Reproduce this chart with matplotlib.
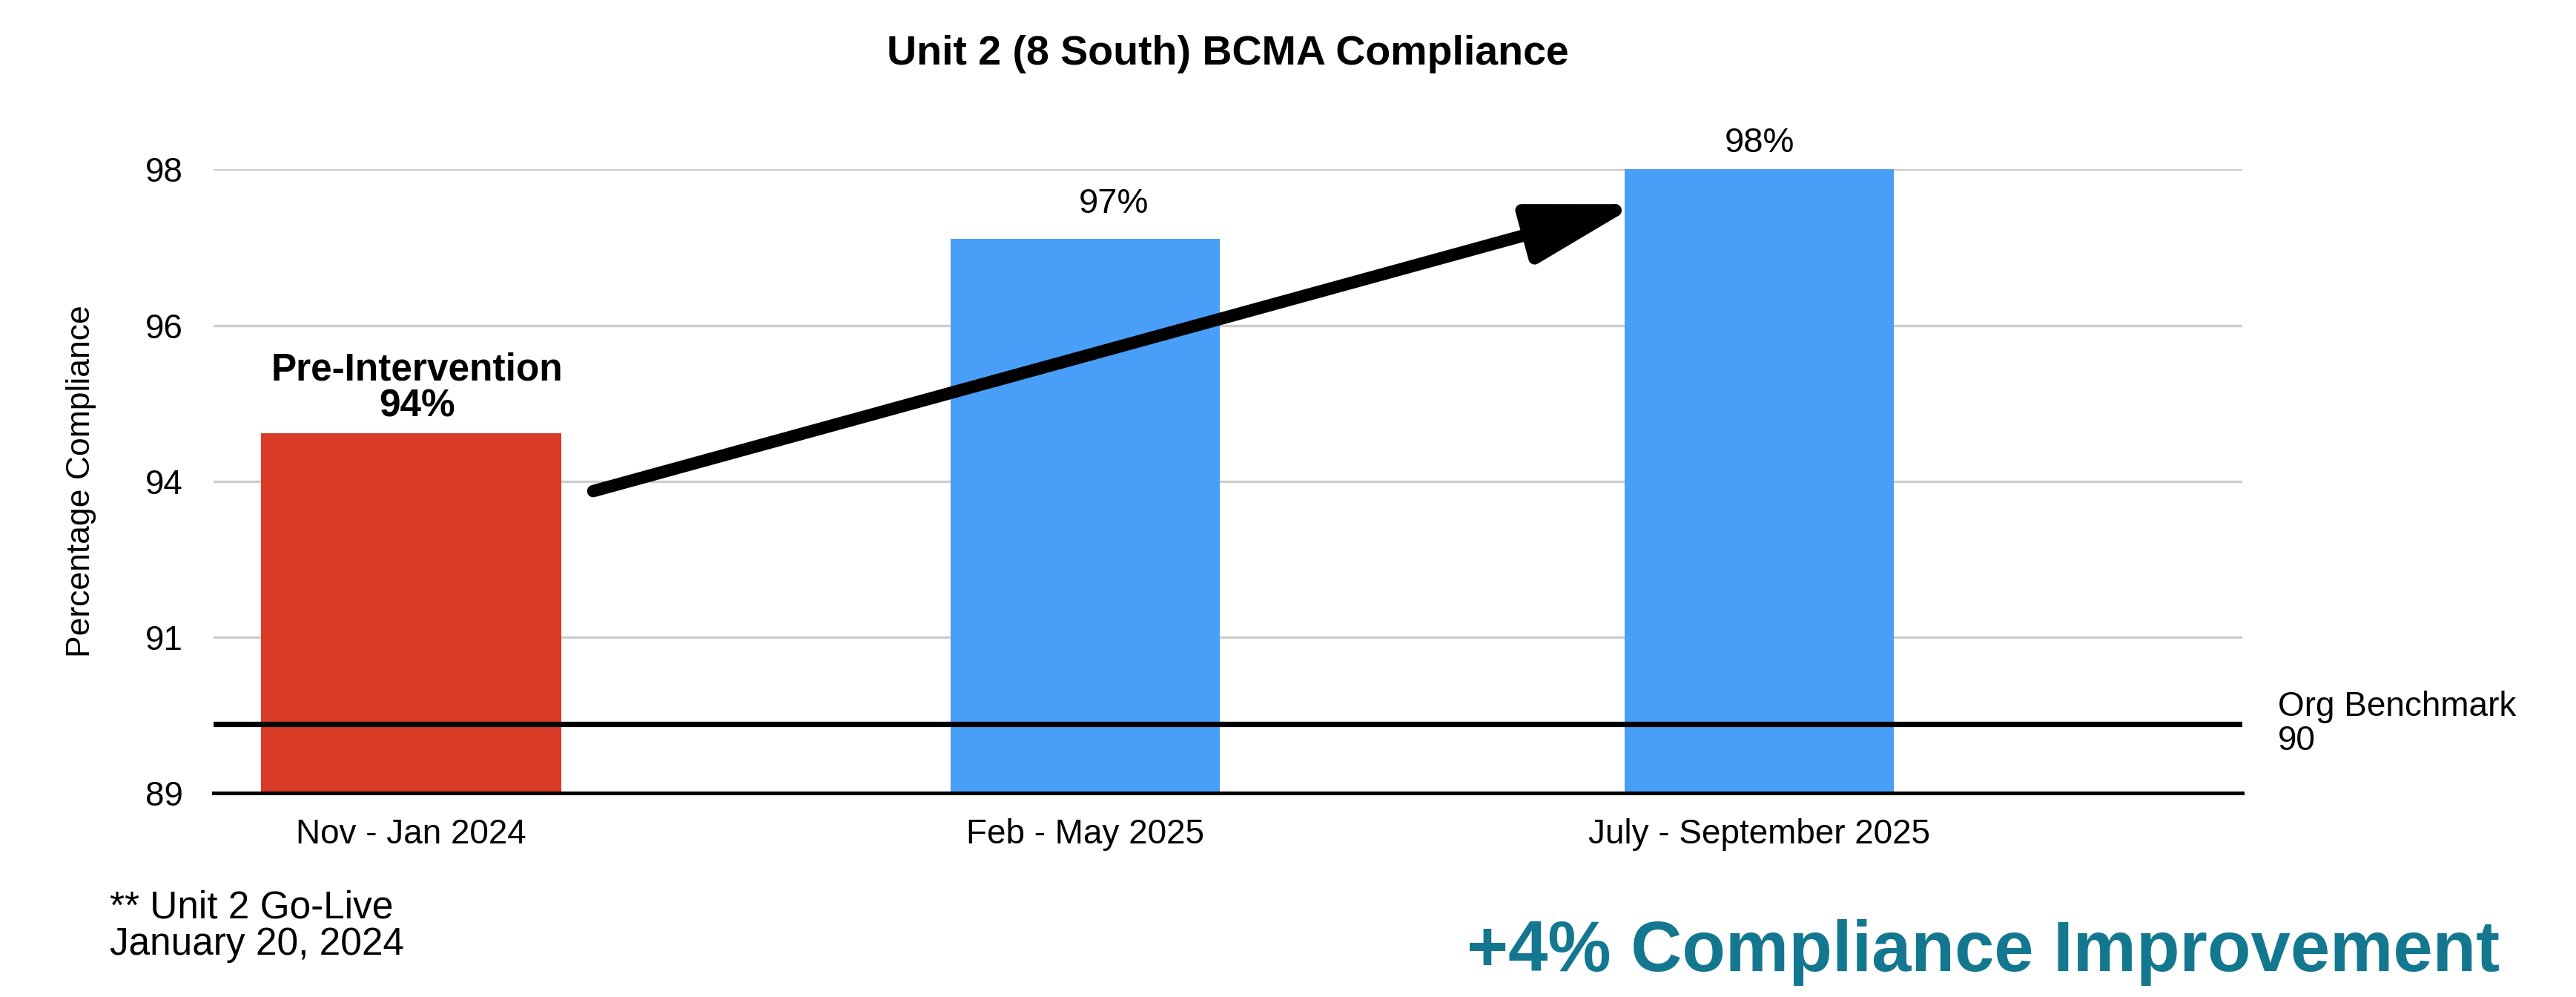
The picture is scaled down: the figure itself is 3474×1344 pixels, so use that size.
import matplotlib
matplotlib.use("Agg")
import matplotlib.pyplot as plt
import numpy as np

plt.rcParams['font.family'] = ['Liberation Sans', 'DejaVu Sans']

# Données
periodes = ["Nov - Jan 2024", "Feb - May 2025", "July - September 2025"]
conformite = [94.2, 97.0, 98.0]
etiquettes_barres = ["Pre-Intervention\n94%", "97%", "98%"]
couleurs = ["#d93b26", "#499ef7", "#499ef7"]
largeurs = [0.445, 0.40, 0.40]
benchmark = 90
graduations = np.linspace(89, 98, 5)
etiquettes_y = ["89", "91", "94", "96", "98"]
fleche_debut = (0.27, 93.36)
fleche_fin = (1.82, 97.5)

fig = plt.figure(figsize=(17.37, 6.72), dpi=200)
ax = fig.add_axes([0.083, 0.2043, 0.7875, 0.6257])

x = np.arange(len(periodes))
barres = ax.bar(x, conformite, width=largeurs, color=couleurs, zorder=2)

decalages = [(3, 4), (14, 9), (0, 5)]
for i, (b, txt) in enumerate(zip(barres, etiquettes_barres)):
    gras = 'bold' if i == 0 else 'normal'
    ax.annotate(txt, (b.get_x() + b.get_width() / 2, b.get_height()),
                xytext=decalages[i], textcoords='offset points',
                ha='center', va='bottom', fontsize=18.5 if i == 0 else 17,
                fontweight=gras, linespacing=1.0, zorder=4)

# Ligne de référence
ax.axhline(benchmark, color='black', linewidth=2.6, zorder=3)
ax.text(2.77, benchmark, "Org Benchmark\n" + str(benchmark), ha='left', va='center',
        fontsize=16.5, linespacing=1.05, clip_on=False)

# Flèche de tendance
ax.annotate("", xy=fleche_fin, xytext=fleche_debut,
            arrowprops=dict(arrowstyle="-|>,head_length=2.0,head_width=0.55",
                            mutation_scale=22, lw=6, color='black',
                            shrinkA=0, shrinkB=0), zorder=5)

ax.set_xlim(-0.293, 2.717)
ax.set_ylim(89, 98)
ax.set_xticks(x)
ax.set_xticklabels(periodes, fontsize=16.5)
ax.set_yticks(graduations)
ax.set_yticklabels(etiquettes_y, fontsize=16.5)
ax.tick_params(axis='both', length=0)
ax.tick_params(axis='x', pad=12)
ax.tick_params(axis='y', pad=15)
ax.yaxis.grid(True, color='#cccccc', linewidth=1.2, zorder=0)
ax.set_axisbelow(True)
for s in ['top', 'right', 'left']:
    ax.spines[s].set_visible(False)
ax.spines['bottom'].set_linewidth(1.8)
ax.spines['bottom'].set_zorder(3)

ax.set_ylabel("Percentage Compliance", fontsize=16)
ax.yaxis.set_label_coords(-0.058, 0.5)
ax.set_title("Unit 2 (8 South) BCMA Compliance", fontsize=20, fontweight='bold', pad=51)

fig.text(0.0427, 0.071, "** Unit 2 Go-Live\nJanuary 20, 2024", fontsize=18.5,
         ha='left', va='center', linespacing=1.0)
fig.text(0.9705, 0.045, "+4% Compliance Improvement", fontsize=34.5, fontweight='bold',
         color='#13788f', ha='right', va='center')

fig.savefig("out.png", dpi=200)
